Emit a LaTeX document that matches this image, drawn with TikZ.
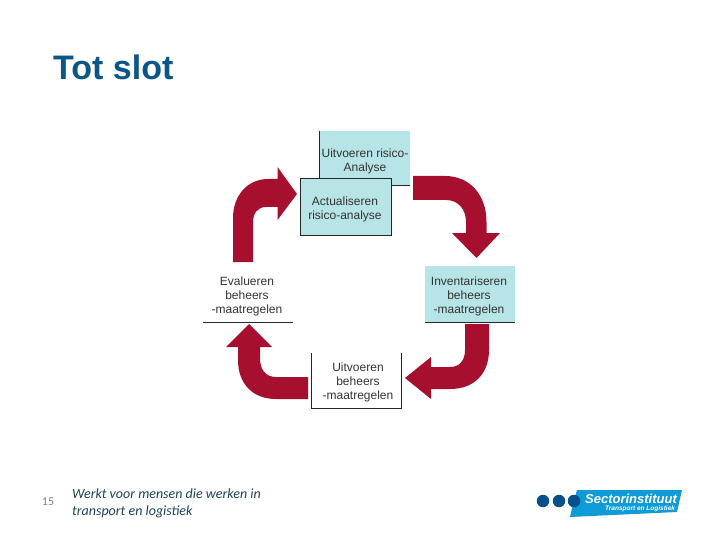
\documentclass[tikz,border=0pt]{standalone}
\usepackage{fontspec}
\setmainfont{Liberation Sans}
\newfontfamily\footfont{Carlito}
\usepackage{xcolor}
\usepackage{tikz}
\usetikzlibrary{positioning, calc}
\definecolor{titleblue}{HTML}{0B5688}
\definecolor{mottoblue}{HTML}{1E4356}
\definecolor{logoblue}{HTML}{0F9AD8}
\definecolor{dotblue}{HTML}{0B4F8A}
\definecolor{cyclered}{HTML}{A60F2E}
\definecolor{boxteal}{HTML}{B7E4E6}

\begin{document}
\begin{tikzpicture}[
        x=1pt, y=-1pt,
        steptext/.style={font=\fontsize{12}{14}\selectfont, align=center, text=black!80,
                         inner sep=0pt},
        edge/.style={line width=1pt, color=black!85},
        cyclearrow/.style={fill=cyclered, draw=none},
        logodot/.style={circle, fill=dotblue, minimum size=12.5pt, inner sep=0pt}
      ]
      \useasboundingbox (0,0) rectangle (720,540);
      % title
      \node[anchor=west, inner sep=0pt, text=titleblue,
            font=\fontsize{34}{36}\selectfont\bfseries] (title) at (53,67) {Tot slot};
      % boxes
      \fill[boxteal] (319,131) rectangle (410,186);
      \draw[edge] (319,131) -- (319,179);
      \draw[edge] (392,186) -- (410,186);
      \node[steptext] (risico) at (365,161.5) {Uitvoeren risico-\\Analyse};
      \fill[boxteal] (300.5,179) rectangle (391.5,235.5);
      \draw[edge] (300.5,179) rectangle (391.5,235.5);
      \node[steptext] (actual) at (345,209.5) {Actualiseren\\risico-analyse};
      \fill[boxteal] (425,266) rectangle (515,322);
      \draw[edge] (425,322) -- (515,322);
      \node[steptext] (invent) at (469,296) {Inventariseren\\beheers\\-maatregelen};
      \draw[edge] (311.5,353) -- (311.5,408) -- (401.5,408) -- (401.5,353);
      \node[steptext] (uitvoer) at (358,382.5) {Uitvoeren\\beheers\\-maatregelen};
      \draw[edge] (203,322) -- (293,322);
      \node[steptext] (evalu) at (247,296) {Evalueren\\beheers\\-maatregelen};
      % arrows
      \fill[cyclearrow] (233,262) -- (233,218)
          .. controls (233,195) and (248,179) .. (268,179)
          -- (277.5,179) -- (277.5,167) -- (297,194) -- (277.5,220) -- (277.5,207)
          -- (266,207) .. controls (258,207) and (253,213) .. (253,222)
          -- (253,262) -- cycle;
      \fill[cyclearrow] (413,176) -- (445,176)
          .. controls (470,176) and (486.5,195) .. (486.5,222)
          -- (486.5,233) -- (500,233) -- (476.5,258) -- (452,233) -- (466,233)
          -- (466,222) .. controls (466,209) and (458,200) .. (446,200)
          -- (413,200) -- cycle;
      \fill[cyclearrow] (465,324) -- (489,324) -- (489,350)
          .. controls (489,374) and (474,389) .. (450,389)
          -- (431,389) -- (431,399) -- (405,378) -- (431,357) -- (431,367)
          -- (450,367) .. controls (459,367) and (465,361) .. (465,350)
          -- cycle;
      \fill[cyclearrow] (308,377) -- (308,399) -- (276,399)
          .. controls (252,399) and (238,383) .. (238,360)
          -- (238,347) -- (226,347) -- (249,324) -- (272,347) -- (260,347)
          -- (260,358) .. controls (260,370) and (266,377) .. (276,377)
          -- cycle;
      % footer
      \node[anchor=center, inner sep=0pt, text=black!50,
            font=\footfont\fontsize{12}{13}\selectfont] (pagenr) at (48,502) {15};
      \node[anchor=west, inner sep=0pt, align=left, text=mottoblue,
            font=\footfont\itshape\fontsize{14}{16.5}\selectfont] (motto) at (72,503.5)
            {Werkt voor mensen die werken in\\transport en logistiek};
      % logo
      \node[logodot] (dota) at (543,501) {};
      \node[logodot] (dotb) at (559,501) {};
      \fill[logoblue] (577,490) -- (682,490) -- (677,512) -- (570,517) -- (573,504) -- cycle;
      \node[logodot] (dotc) at (574,501) {};
      \node[inner sep=0pt, text=white, font=\fontsize{13}{14}\selectfont\bfseries\itshape]
            (logoname) at (631,498.5) {Sectorinstituut};
      \node[inner sep=0pt, text=white, font=\fontsize{6.5}{7}\selectfont\bfseries\itshape]
            (logosub) at (640,509) {Transport en Logistiek};
    \end{tikzpicture}
\end{document}
